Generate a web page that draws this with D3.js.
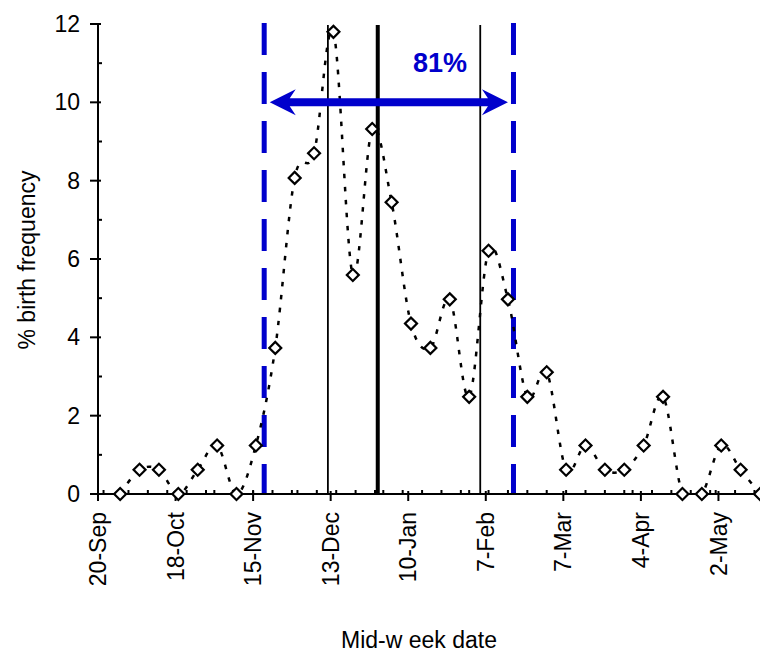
<!DOCTYPE html>
<html>
<head>
<meta charset="utf-8">
<script src="https://cdn.jsdelivr.net/npm/d3@7"></script>
<style>
	body { margin: 0; background: #fff; }
	text { font-family: 'Liberation Sans', Arial, sans-serif; }
</style>
</head>
<body>
<div id="chart"></div>
<script>
// weekly mid-week dates and % of births in that week
const weekDates = [
	'2002-09-28', '2002-10-05', '2002-10-12', '2002-10-19', '2002-10-26',
	'2002-11-02', '2002-11-09', '2002-11-16', '2002-11-23', '2002-11-30',
	'2002-12-07', '2002-12-14', '2002-12-21', '2002-12-28', '2003-01-04',
	'2003-01-11', '2003-01-18', '2003-01-25', '2003-02-01', '2003-02-08',
	'2003-02-15', '2003-02-22', '2003-03-01', '2003-03-08', '2003-03-15',
	'2003-03-22', '2003-03-29', '2003-04-05', '2003-04-12', '2003-04-19',
	'2003-04-26', '2003-05-03', '2003-05-10', '2003-05-17',
];
const birthFreq = [
	0, 0.62, 0.62, 0, 0.62, 1.24, 0, 1.24, 3.73, 8.07,
	8.7, 11.8, 5.59, 9.32, 7.45, 4.35, 3.73, 4.97, 2.48, 6.21,
	4.97, 2.48, 3.11, 0.62, 1.24, 0.62, 0.62, 1.24, 2.48, 0,
	0, 1.24, 0.62, 0,
];

// axis ticks
const tickDates = [
	'2002-09-20', '2002-10-18', '2002-11-15', '2002-12-13', '2003-01-10',
	'2003-02-07', '2003-03-07', '2003-04-04', '2003-05-02',
];
const tickLabels = [
	'20-Sep', '18-Oct', '15-Nov', '13-Dec', '10-Jan',
	'7-Feb', '7-Mar', '4-Apr', '2-May',
];
const yTicks = [0, 2, 4, 6, 8, 10, 12];

// annotations
const seasonBounds = ['2002-11-19', '2003-02-17']; // blue dashed lines
const thinLines = ['2002-12-12', '2003-02-05'];
const centreLine = '2002-12-30';
const arrowDates = ['2002-11-21', '2003-02-15'];
const arrowValue = 10;
const arrowLabel = '81%';

const parse = d3.utcParse('%Y-%m-%d');
const blue = '#0000cc';

function createChart() {
	d3.select('#chart').html('');

	const svg = d3
		.select('#chart')
		.append('svg')
		.attr('width', 760)
		.attr('height', 652);

	const x = d3
		.scaleUtc()
		.domain([parse('2002-09-20'), parse('2003-05-17')])
		.range([98, 760]);
	const y = d3.scaleLinear().domain([0, 12]).range([494, 24]);

	const data = weekDates.map((d, i) => ({ date: parse(d), value: birthFreq[i] }));

	// clip for the smoothed line (plot area)
	svg.append('clipPath')
		.attr('id', 'plotclip')
		.append('rect')
		.attr('x', x.range()[0])
		.attr('y', y(12))
		.attr('width', x.range()[1] - x.range()[0])
		.attr('height', y(0) - y(12));

	// blue dashed season bounds
	svg.selectAll('.bound')
		.data(seasonBounds)
		.enter()
		.append('line')
		.attr('x1', (d) => x(parse(d)))
		.attr('x2', (d) => x(parse(d)))
		.attr('y1', 23)
		.attr('y2', y(0))
		.attr('stroke', blue)
		.attr('stroke-width', 5)
		.attr('stroke-dasharray', '32,17');

	// black vertical lines
	svg.selectAll('.thin')
		.data(thinLines)
		.enter()
		.append('line')
		.attr('x1', (d) => x(parse(d)))
		.attr('x2', (d) => x(parse(d)))
		.attr('y1', 25)
		.attr('y2', y(0))
		.attr('stroke', '#000')
		.attr('stroke-width', 1.8);

	svg.append('line')
		.attr('x1', x(parse(centreLine)))
		.attr('x2', x(parse(centreLine)))
		.attr('y1', 25)
		.attr('y2', y(0))
		.attr('stroke', '#000')
		.attr('stroke-width', 4);

	// smoothed dotted line
	const line = d3
		.line()
		.x((d) => x(d.date))
		.y((d) => y(d.value))
		.curve(d3.curveCatmullRom.alpha(0));

	svg.append('path')
		.datum(data)
		.attr('clip-path', 'url(#plotclip)')
		.attr('d', line)
		.attr('fill', 'none')
		.attr('stroke', '#000')
		.attr('stroke-width', 2.5)
		.attr('stroke-dasharray', '4.5,8.5');

	// double-headed arrow
	const ax1 = x(parse(arrowDates[0]));
	const ax2 = x(parse(arrowDates[1]));
	const ay = y(arrowValue);
	const hl = 26, hh = 13, sh = 4, notch = 6;
	const pts = [
		[ax1, ay], [ax1 + hl, ay - hh], [ax1 + hl - notch, ay - sh],
		[ax2 - hl + notch, ay - sh], [ax2 - hl, ay - hh], [ax2, ay],
		[ax2 - hl, ay + hh], [ax2 - hl + notch, ay + sh],
		[ax1 + hl - notch, ay + sh], [ax1 + hl, ay + hh],
	];
	svg.append('path')
		.attr('d', d3.line()(pts) + 'Z')
		.attr('fill', blue);

	svg.append('text')
		.attr('x', 440)
		.attr('y', 72)
		.attr('text-anchor', 'middle')
		.attr('fill', blue)
		.style('font-size', '27px')
		.style('font-weight', 'bold')
		.text(arrowLabel);

	// axes
	const axisG = svg.append('g');

	// y axis
	axisG.append('line')
		.attr('x1', x.range()[0]).attr('x2', x.range()[0])
		.attr('y1', y(12)).attr('y2', y(0))
		.attr('stroke', '#000').attr('stroke-width', 2);
	axisG.selectAll('.ymaj')
		.data(yTicks)
		.enter()
		.append('line')
		.attr('x1', x.range()[0] - 8).attr('x2', x.range()[0] + 3)
		.attr('y1', (d) => y(d)).attr('y2', (d) => y(d))
		.attr('stroke', '#000').attr('stroke-width', 2);
	axisG.selectAll('.ymin')
		.data(d3.range(1, 12, 2))
		.enter()
		.append('line')
		.attr('x1', x.range()[0]).attr('x2', x.range()[0] + 4)
		.attr('y1', (d) => y(d)).attr('y2', (d) => y(d))
		.attr('stroke', '#000').attr('stroke-width', 2);
	axisG.selectAll('.ylab')
		.data(yTicks)
		.enter()
		.append('text')
		.attr('x', 80)
		.attr('y', (d) => y(d))
		.attr('dy', '0.35em')
		.attr('text-anchor', 'end')
		.style('font-size', '23px')
		.text((d) => d);

	// x axis
	axisG.append('line')
		.attr('x1', x.range()[0]).attr('x2', x.range()[1])
		.attr('y1', y(0)).attr('y2', y(0))
		.attr('stroke', '#000').attr('stroke-width', 2);
	const weekTicks = d3.utcDay.every(7).range(x.domain()[0], x.domain()[1]);
	axisG.selectAll('.xmin')
		.data(weekTicks)
		.enter()
		.append('line')
		.attr('x1', (d) => x(d)).attr('x2', (d) => x(d))
		.attr('y1', y(0) - 4).attr('y2', y(0))
		.attr('stroke', '#000').attr('stroke-width', 2);
	axisG.selectAll('.xmaj')
		.data(tickDates)
		.enter()
		.append('line')
		.attr('x1', (d) => x(parse(d))).attr('x2', (d) => x(parse(d)))
		.attr('y1', y(0) - 3).attr('y2', y(0) + 7)
		.attr('stroke', '#000').attr('stroke-width', 2);
	axisG.selectAll('.xlab')
		.data(tickDates)
		.enter()
		.append('text')
		.attr('transform', (d) => `translate(${x(parse(d))},512) rotate(-90)`)
		.attr('dy', '0.35em')
		.attr('text-anchor', 'end')
		.style('font-size', '23px')
		.text((d, i) => tickLabels[i]);

	// markers
	svg.selectAll('.pt')
		.data(data)
		.enter()
		.append('path')
		.attr('d', d3.symbol().type(d3.symbolSquare).size(72))
		.attr('transform', (d) => `translate(${x(d.date)},${y(d.value)}) rotate(45)`)
		.attr('fill', '#fff')
		.attr('stroke', '#000')
		.attr('stroke-width', 2.2);

	// axis titles
	svg.append('text')
		.attr('transform', 'translate(35,260) rotate(-90)')
		.attr('text-anchor', 'middle')
		.style('font-size', '23px')
		.text('% birth frequency');

	svg.append('text')
		.attr('x', 419)
		.attr('y', 648)
		.attr('text-anchor', 'middle')
		.style('font-size', '23px')
		.text('Mid-w eek date');
}

createChart();
</script>
</body>
</html>
